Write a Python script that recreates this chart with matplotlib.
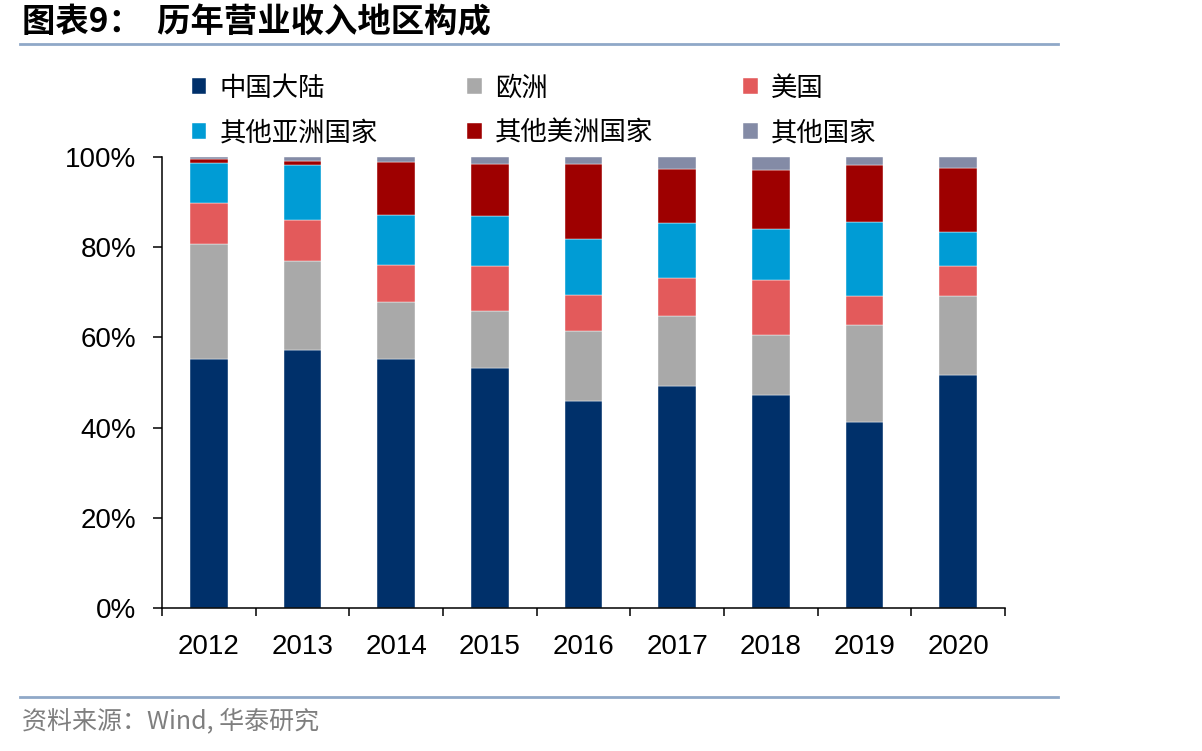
import numpy as np
import matplotlib
matplotlib.use("Agg")
import matplotlib.pyplot as plt
from matplotlib.lines import Line2D

plt.rcParams['font.family'] = ['Noto Sans CJK SC', 'DejaVu Sans']

years = ['2012', '2013', '2014', '2015', '2016', '2017', '2018', '2019', '2020']
regions = ['中国大陆', '欧洲', '美国', '其他亚洲国家', '其他美洲国家', '其他国家']
colors = ['#00306A', '#A9A9A9', '#E35A5B', '#009CD5', '#9E0000', '#848BA6']

# 各地区收入占比（%）
china = [55.3, 57.1, 55.3, 53.2, 46.0, 49.2, 47.2, 41.2, 51.7]
europe = [25.4, 19.8, 12.5, 12.6, 15.4, 15.5, 13.3, 21.5, 17.5]
usa = [9.2, 9.1, 8.2, 10.0, 8.0, 8.4, 12.2, 6.5, 6.7]
other_asia = [8.8, 12.2, 11.1, 11.1, 12.4, 12.2, 11.3, 16.4, 7.5]
other_america = [0.9, 1.0, 11.9, 11.5, 16.6, 12.0, 13.1, 12.6, 14.2]
others = [0.4, 0.8, 1.0, 1.6, 1.6, 2.7, 2.9, 1.8, 2.4]

series = [china, europe, usa, other_asia, other_america, others]

fig = plt.figure(figsize=(12.02, 7.51), dpi=100)
ax = fig.add_axes([162 / 1202, 143 / 751, 843 / 1202, 451 / 751])

x = np.arange(len(years))
bottom = np.zeros(len(years))
handles = []
for vals, name, c in zip(series, regions, colors):
    v = np.array(vals) / 100
    h = ax.bar(x, v, 0.4, bottom=bottom, color=c, label=name,
               edgecolor='white', linewidth=0.3)
    handles.append(h)
    bottom += v

ax.set_xlim(-0.5, len(years) - 0.5)
ax.set_ylim(0, 1)
ax.set_yticks(np.arange(0, 1.01, 0.2))
ax.set_yticklabels([f'{int(round(t * 100))}%' for t in np.arange(0, 1.01, 0.2)],
                   family='Liberation Sans', fontsize=20)
ax.set_xticks(x)
ax.set_xticklabels(years, family='Liberation Sans', fontsize=20)
ax.set_xticks(np.arange(-0.5, len(years)), minor=True)
ax.tick_params(axis='x', which='major', length=0, pad=19)
ax.tick_params(axis='x', which='minor', length=6, width=1.1, direction='out')
ax.tick_params(axis='y', length=6.5, width=1.1, direction='out', pad=12)
for s in ['top', 'right']:
    ax.spines[s].set_visible(False)
for s in ['left', 'bottom']:
    ax.spines[s].set_linewidth(1.1)

# 图例：两行三列
order = [0, 3, 1, 4, 2, 5]
leg = ax.legend([handles[i] for i in order], [regions[i] for i in order],
                ncol=3, loc='upper left', bbox_to_anchor=(168 / 1202, 1 - 51 / 751),
                bbox_transform=fig.transFigure, frameon=False, fontsize=19,
                handlelength=0.55, handleheight=0.55, handletextpad=0.5,
                columnspacing=3.4, labelspacing=0.68)

# 标题与分隔线
fig.text(22 / 1202, 1 - 23 / 751, '图表9：  历年营业收入地区构成', fontsize=24,
         fontweight='bold', va='center', ha='left')
fig.add_artist(Line2D([20 / 1202, 1058 / 1202], [1 - 44 / 751] * 2,
                      color='#8FA8C8', linewidth=2, transform=fig.transFigure))
fig.add_artist(Line2D([20 / 1202, 1058 / 1202], [1 - 697 / 751] * 2,
                      color='#8FA8C8', linewidth=2, transform=fig.transFigure))
fig.text(22 / 1202, 1 - 721 / 751, '资料来源：Wind, 华泰研究', fontsize=18,
         color='#7F7F7F', va='center', ha='left')

fig.savefig('out.png', dpi=100)
